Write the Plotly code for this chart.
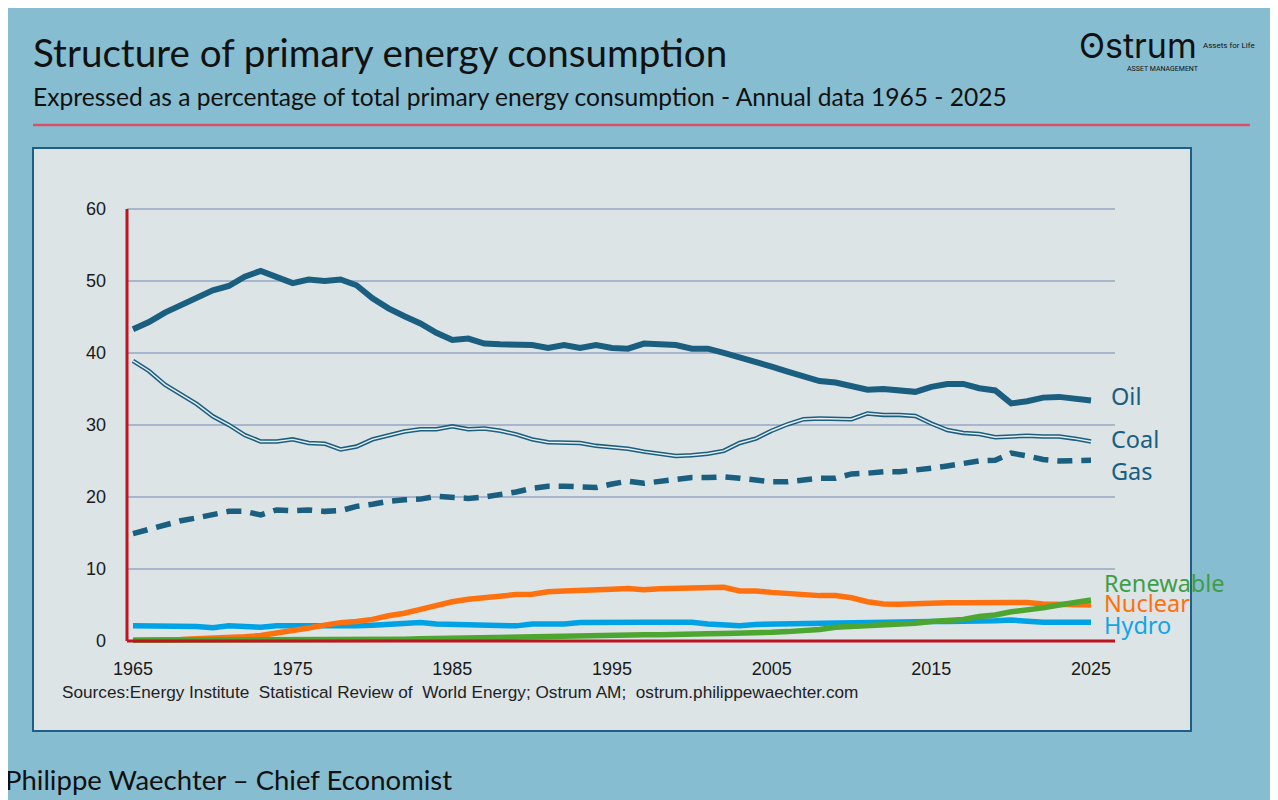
import plotly.graph_objects as go

W, H = 1278, 800
OFF = 8  # the page body margin pushes the figure 8px right and down

# --- data (share of total primary energy consumption, %) ---
years = list(range(1965, 2026))

oil = [
    43.3, 44.3, 45.6, 46.6, 47.5, 48.7, 49.3, 50.6, 51.4, 50.6,
    49.7, 50.2, 50.0, 50.2, 49.4, 47.6, 46.2, 45.1, 44.1, 42.8,
    41.8, 42.0, 41.3, 41.2, 41.1, 41.1, 40.7, 41.1, 40.7, 41.1,
    40.7, 40.6, 41.3, 41.2, 41.1, 40.6, 40.6, 40.0, 39.4, 38.9,
    38.1, 37.4, 36.8, 36.1, 35.9, 35.4, 34.9, 35.0, 34.9, 34.6,
    35.3, 35.7, 35.7, 35.1, 34.8, 33.0, 33.3, 33.8, 33.9, 33.6,
    33.4,
]
coal = [
    38.9, 37.5, 35.6, 34.2, 32.9, 31.2, 30.0, 28.6, 27.7, 27.7,
    28.0, 27.5, 27.4, 26.6, 27.0, 28.0, 28.6, 29.1, 29.4, 29.4,
    29.8, 29.4, 29.5, 29.2, 28.7, 28.0, 27.6, 27.5, 27.5, 27.1,
    26.9, 26.7, 26.3, 26.0, 25.7, 25.8, 26.0, 26.4, 27.5, 28.1,
    29.2, 30.1, 30.8, 30.9, 30.9, 30.8, 31.6, 31.4, 31.4, 31.25,
    30.2, 29.3, 28.9, 28.75, 28.3, 28.4, 28.5, 28.4, 28.4, 28.1,
    27.7,
]
gas = [
    14.9, 15.5, 16.2, 16.7, 17.1, 17.5, 18.0, 18.0, 17.5, 18.2,
    18.1, 18.2, 18.0, 18.1, 18.7, 19.0, 19.4, 19.6, 19.7, 20.1,
    20.0, 19.8, 20.0, 20.3, 20.7, 21.2, 21.5, 21.5, 21.4, 21.3,
    21.8, 22.2, 21.9, 22.2, 22.5, 22.7, 22.7, 22.8, 22.6, 22.3,
    22.1, 22.1, 22.3, 22.6, 22.6, 23.2, 23.3, 23.5, 23.5, 23.7,
    24.0, 24.3, 24.6, 25.0, 25.1, 26.1, 25.7, 25.2, 25.0, 25.1,
    25.1,
]
nuclear = [
    0.1, 0.1, 0.15, 0.2, 0.3, 0.35, 0.45, 0.6, 0.75, 1.05,
    1.45, 1.8, 2.2, 2.55, 2.7, 3.0, 3.5, 3.85, 4.4, 5.0,
    5.45, 5.8, 6.05, 6.3, 6.45, 6.5, 6.85, 6.95, 7.0, 7.0,
    7.2, 7.3, 7.1, 7.25, 7.3, 7.3, 7.45, 7.45, 6.95, 6.95,
    6.75, 6.6, 6.3, 6.3, 6.3, 6.0, 5.45, 5.15, 5.1, 5.2,
    5.3, 5.3, 5.3, 5.35, 5.4, 5.45, 5.35, 5.15, 5.1, 5.1,
    5.0,
]
hydro = [
    2.1, 2.1, 2.1, 2.1, 2.0, 1.85, 2.1, 2.0, 1.9, 2.1,
    2.1, 2.0, 2.0, 2.1, 2.1, 2.2, 2.35, 2.45, 2.55, 2.35,
    2.3, 2.3, 2.3, 2.3, 2.1, 2.35, 2.35, 2.35, 2.55, 2.6,
    2.6, 2.6, 2.6, 2.6, 2.6, 2.6, 2.35, 2.3, 2.1, 2.3,
    2.35, 2.35, 2.35, 2.45, 2.55, 2.6, 2.65, 2.7, 2.65, 2.7,
    2.7, 2.7, 2.7, 2.7, 2.8, 2.9, 2.7, 2.6, 2.6, 2.6,
    2.6,
]
renewables = [
    0.1, 0.1, 0.1, 0.1, 0.1, 0.1, 0.1, 0.1, 0.1, 0.1,
    0.1, 0.1, 0.1, 0.1, 0.15, 0.2, 0.2, 0.25, 0.3, 0.35,
    0.4, 0.4, 0.4, 0.4, 0.6, 0.6, 0.65, 0.7, 0.75, 0.75,
    0.8, 0.8, 0.85, 0.85, 0.95, 1.0, 1.0, 1.05, 1.05, 1.1,
    1.2, 1.3, 1.4, 1.6, 1.9, 2.0, 2.1, 2.2, 2.3, 2.45,
    2.7, 2.8, 3.0, 3.4, 3.6, 4.05, 4.3, 4.6, 5.0, 5.35,
    5.7,
]

x_ticks = [1965, 1975, 1985, 1995, 2005, 2015, 2025]
y_ticks = [0, 10, 20, 30, 40, 50, 60]

# colours
PAGE_BG = "#87bdd0"
PANEL_BG = "#dce4e6"
DARK = "#1a5e80"
ORANGE = "#ff700e"
GREEN = "#4da630"
LIGHTBLUE = "#00a2e6"
RED = "#bf1320"
GRID = "#a7b5cd"


def px(x):
    return (x - OFF) / W


def py(y):
    return 1 - (y - OFF) / H


fig = go.Figure()

fig.add_trace(go.Scatter(x=years, y=hydro, mode="lines",
                         line=dict(color=LIGHTBLUE, width=5.5)))
fig.add_trace(go.Scatter(x=years, y=nuclear, mode="lines",
                         line=dict(color=ORANGE, width=5.5)))
fig.add_trace(go.Scatter(x=years, y=renewables, mode="lines",
                         line=dict(color=GREEN, width=5.5)))
fig.add_trace(go.Scatter(x=years, y=gas, mode="lines",
                         line=dict(color=DARK, width=5.5, dash="15px,9px")))
# coal: double line (dark outline + light core)
fig.add_trace(go.Scatter(x=years, y=coal, mode="lines",
                         line=dict(color=DARK, width=4.5)))
fig.add_trace(go.Scatter(x=years, y=coal, mode="lines",
                         line=dict(color="#e9eff1", width=1.4)))
fig.add_trace(go.Scatter(x=years, y=oil, mode="lines",
                         line=dict(color=DARK, width=6)))

shapes = [
    # chart panel
    dict(type="rect", xref="paper", yref="paper", layer="below",
         x0=px(33), x1=px(1191), y0=py(731), y1=py(148),
         fillcolor=PANEL_BG, line=dict(color="#1d5f86", width=2)),
    # header rule
    dict(type="line", xref="paper", yref="paper",
         x0=px(33), x1=px(1250), y0=py(125), y1=py(125),
         line=dict(color="#d9506a", width=2.5)),
    # red axes
    dict(type="line", xref="paper", yref="y",
         x0=px(127), x1=px(127), y0=0, y1=60,
         line=dict(color=RED, width=3)),
    dict(type="line", xref="paper", yref="y",
         x0=px(127), x1=px(1115), y0=0, y1=0,
         line=dict(color=RED, width=3)),
]

LABEL_FONT = "Noto Sans"
annotations = [
    dict(text="Structure of primary energy consumption", x=px(31), y=py(52),
         xref="paper", yref="paper", xanchor="left", yanchor="middle", showarrow=False,
         font=dict(family="Lato", size=38.6, color="#111111")),
    dict(text="Expressed as a percentage of total primary energy consumption - Annual data 1965 - 2025",
         x=px(31), y=py(97), xref="paper", yref="paper", xanchor="left", yanchor="middle",
         showarrow=False, font=dict(family="Lato", size=24.6, color="#111111")),
    dict(text="Philippe Waechter \u2013 Chief Economist", x=px(3), y=py(779),
         xref="paper", yref="paper", xanchor="left", yanchor="middle", showarrow=False,
         font=dict(family="Lato", size=27.5, color="#111111")),
    dict(text="Sources:Energy Institute  Statistical Review of  World Energy; Ostrum AM;  ostrum.philippewaechter.com",
         x=px(60), y=py(692), xref="paper", yref="paper", xanchor="left", yanchor="middle",
         showarrow=False, font=dict(family="Liberation Sans", size=17.2, color="#222222")),
    # logo
    dict(text="\u0298strum", x=px(1077), y=py(46), xref="paper", yref="paper",
         xanchor="left", yanchor="middle", showarrow=False,
         font=dict(family="Inter", size=34, color="#111111")),
    dict(text="Assets for Life", x=px(1201), y=py(46), xref="paper", yref="paper",
         xanchor="left", yanchor="middle", showarrow=False,
         font=dict(family="Roboto", size=8, color="#111111")),
    dict(text="ASSET MANAGEMENT", x=px(1125), y=py(69), xref="paper", yref="paper",
         xanchor="left", yanchor="middle", showarrow=False,
         font=dict(family="Roboto", size=7, color="#111111")),
]

# end-of-line labels
labels = [("Oil", 396, DARK), ("Coal", 439, DARK), ("Gas", 471, DARK),
          ("Renewable", 583, "#3d9e48"), ("Nuclear", 603, ORANGE), ("Hydro", 625, "#12a4e8")]
for text, ypix, col in labels:
    xpos = 1109 if text in ("Oil", "Coal", "Gas") else 1102
    annotations.append(dict(text=text, x=px(xpos), y=py(ypix), xref="paper", yref="paper",
                            xanchor="left", yanchor="middle", showarrow=False,
                            font=dict(family=LABEL_FONT, size=23.5, color=col)))

fig.update_layout(
    width=W, height=H,
    margin=dict(l=0, r=0, t=0, b=0, pad=0, autoexpand=False),
    paper_bgcolor=PAGE_BG,
    plot_bgcolor="rgba(0,0,0,0)",
    showlegend=False,
    shapes=shapes,
    annotations=annotations,
    xaxis=dict(
        domain=[px(127), px(1115)],
        range=[1965 - 6 / 15.97, 2025 + 24 / 15.97],
        tickvals=x_ticks, ticks="", showgrid=False, zeroline=False, showline=False,
        automargin=False,
        tickfont=dict(family="Liberation Sans", size=18, color="#1a1a1a"),
        ticklabelstandoff=11,
    ),
    yaxis=dict(
        domain=[py(645.3), py(206.8)],
        range=[-0.6, 60.3],
        tickvals=y_ticks, ticks="", showgrid=True, gridcolor=GRID, gridwidth=2,
        zeroline=False, showline=False, automargin=False,
        tickfont=dict(family="Liberation Sans", size=18, color="#1a1a1a"),
        ticklabelstandoff=20,
    ),
)

fig.write_html("out.html")
